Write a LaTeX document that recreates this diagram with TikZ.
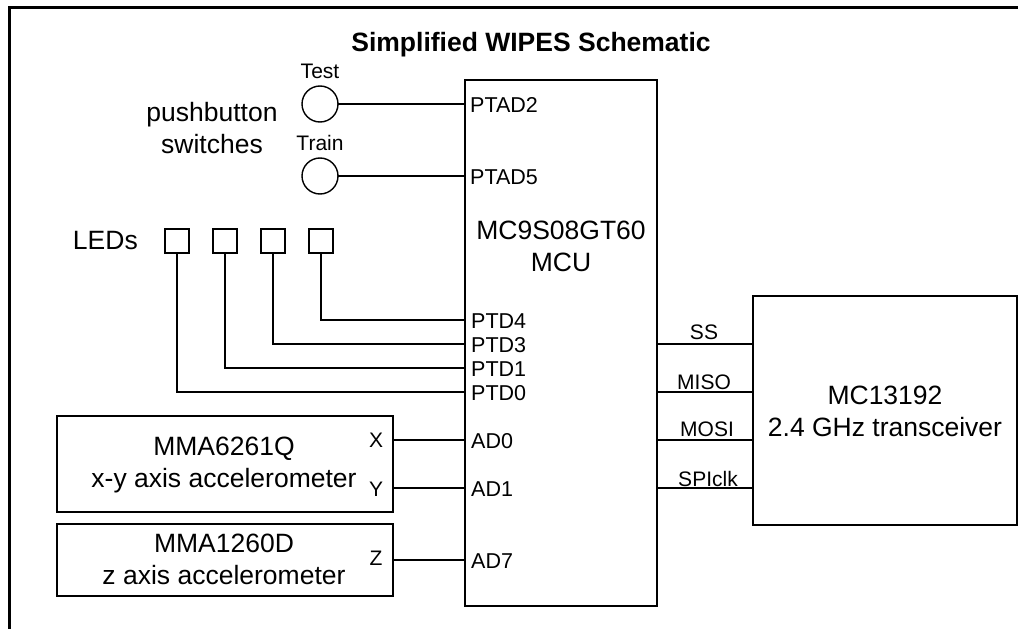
\documentclass[tikz,border=0pt]{standalone}
\usepackage{fontspec}
\setmainfont{Liberation Sans}
\usetikzlibrary{positioning}

\begin{document}
\begin{tikzpicture}[x=1pt,y=-1pt,
  block/.style={draw,line width=1.4pt,inner sep=0pt,outer sep=0pt,align=center,font=\fontsize{26.5}{33}\selectfont},
  button/.style={circle,draw,line width=1.4pt,minimum size=36pt,inner sep=0pt,outer sep=0pt},
  led/.style={rectangle,draw,line width=1.4pt,minimum size=24pt,inner sep=0pt,outer sep=0pt},
  biglabel/.style={inner sep=0pt,align=center,font=\fontsize{26.5}{32}\selectfont},
  pinlabel/.style={inner sep=0pt,anchor=west,yshift=-1pt,font=\fontsize{21.5}{21.5}\selectfont},
  smalllabel/.style={inner sep=0pt,font=\fontsize{21}{21}\selectfont},
  wire/.style={line width=1.4pt}]

  \useasboundingbox (0,0) rectangle (1018,629);
  \draw[line width=3pt] (9,629) -- (9,7) -- (1018,7);

  \node[biglabel] (title) at (531,45) {\bfseries Simplified WIPES Schematic};

  \node[block,minimum width=192pt,minimum height=526pt] (mcu) at (561,343) {};
  \node[biglabel] (mcuname) at (561,246) {MC9S08GT60\\MCU};
  \node[block,minimum width=264pt,minimum height=229pt] (trx) at (885,410.5) {};
  \node[biglabel] (trxname) at (885,411) {MC13192\\2.4 GHz transceiver};
  \node[block,minimum width=336pt,minimum height=96pt] (xyacc) at (225,464) {};
  \node[biglabel] (xyname) at (224,465) {MMA6261Q\\x-y axis accelerometer};
  \node[block,minimum width=336pt,minimum height=72pt] (zacc) at (225,560) {};
  \node[biglabel] (zname) at (224,559) {MMA1260D\\z axis accelerometer};

  \node[button] (test) at (320,104) {};
  \node[button] (train) at (320,176) {};
  \node[smalllabel,above=7pt of test] (testlabel) {Test};
  \node[smalllabel,above=7pt of train] (trainlabel) {Train};
  \node[biglabel] (switches) at (212,128) {pushbutton\\switches};

  \node[led] (led0) at (177,241) {};
  \node[led] (led1) at (225,241) {};
  \node[led] (led2) at (273,241) {};
  \node[led] (led3) at (321,241) {};
  \node[biglabel,left=27pt of led0] (leds) {LEDs};

  \node[pinlabel] (ptad2) at (470,104) {PTAD2};
  \node[pinlabel] (ptad5) at (470,176) {PTAD5};
  \node[pinlabel] (ptd4) at (471,320) {PTD4};
  \node[pinlabel] (ptd3) at (471,344) {PTD3};
  \node[pinlabel] (ptd1) at (471,368) {PTD1};
  \node[pinlabel] (ptd0) at (471,392) {PTD0};
  \node[pinlabel] (ad0) at (471,440) {AD0};
  \node[pinlabel] (ad1) at (471,488) {AD1};
  \node[pinlabel] (ad7) at (471,560) {AD7};

  \node[smalllabel] (xpin) at (376,440) {X};
  \node[smalllabel] (ypin) at (376,489) {Y};
  \node[smalllabel] (zpin) at (376,558) {Z};

  \draw[wire] (test) -- (test -| mcu.west);
  \draw[wire] (train) -- (train -| mcu.west);

  \coordinate (ptd4pin) at (465,320);
  \coordinate (ptd3pin) at (465,344);
  \coordinate (ptd1pin) at (465,368);
  \coordinate (ptd0pin) at (465,392);

  \draw[wire] (led3) |- (ptd4pin);
  \draw[wire] (led2) |- (ptd3pin);
  \draw[wire] (led1) |- (ptd1pin);
  \draw[wire] (led0) |- (ptd0pin);

  \coordinate (ad0pin) at (465,440);
  \coordinate (ad1pin) at (465,488);
  \coordinate (ad7pin) at (465,560);

  \draw[wire] (ad0pin -| xyacc.east) -- (ad0pin);
  \draw[wire] (ad1pin -| xyacc.east) -- (ad1pin);
  \draw[wire] (ad7pin -| zacc.east) -- (ad7pin);

  \coordinate (sspin) at (657,344);
  \coordinate (misopin) at (657,392);
  \coordinate (mosipin) at (657,440);
  \coordinate (spiclkpin) at (657,488);

  \draw[wire] (sspin) -- (sspin -| trx.west);
  \draw[wire] (misopin) -- (misopin -| trx.west);
  \draw[wire] (mosipin) -- (mosipin -| trx.west);
  \draw[wire] (spiclkpin) -- (spiclkpin -| trx.west);

  \node[smalllabel] (ss) at (704,332) {SS};
  \node[smalllabel] (miso) at (704,382) {MISO};
  \node[smalllabel] (mosi) at (707,429) {MOSI};
  \node[smalllabel] (spiclk) at (708,479) {SPIclk};
\end{tikzpicture}
\end{document}
